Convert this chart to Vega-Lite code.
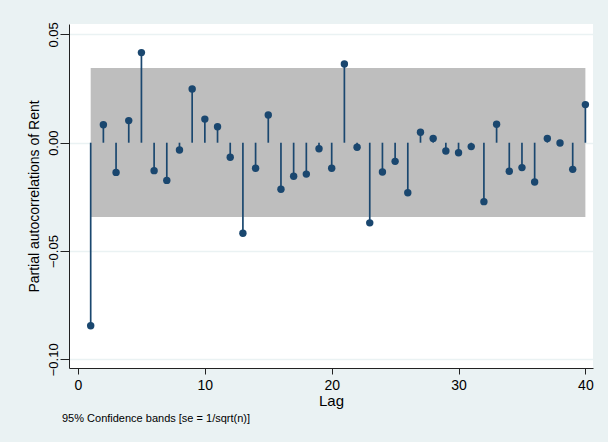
{
  "$schema": "https://vega.github.io/schema/vega-lite/v6.json",
  "autosize": "none",
  "width": 524,
  "height": 344,
  "padding": {"left": 69, "top": 24, "right": 15, "bottom": 74},
  "background": "#EAF2F3",
  "view": {"fill": "white", "stroke": null},
  "config": {
    "font": "Liberation Sans",
    "axis": {"labelFont": "Liberation Sans", "titleFont": "Liberation Sans", "labelColor": "black", "titleColor": "black", "titleFontWeight": "normal", "domainColor": "#222", "tickColor": "#222"}
  },
  "title": {"text": "95% Confidence bands [se = 1/sqrt(n)]", "orient": "bottom", "anchor": "start", "frame": "group", "fontSize": 11, "fontWeight": "normal", "color": "black", "offset": 5, "dx": -7},
  "datasets": {
    "band": [{"from": 1, "to": 40, "lo": -0.0343, "hi": 0.0345}],
    "pacf": [
      {"lag": 1, "pacf": -0.0845},
      {"lag": 2, "pacf": 0.0083},
      {"lag": 3, "pacf": -0.0137},
      {"lag": 4, "pacf": 0.0102},
      {"lag": 5, "pacf": 0.0416},
      {"lag": 6, "pacf": -0.0129},
      {"lag": 7, "pacf": -0.0174},
      {"lag": 8, "pacf": -0.0034},
      {"lag": 9, "pacf": 0.0248},
      {"lag": 10, "pacf": 0.0109},
      {"lag": 11, "pacf": 0.0074},
      {"lag": 12, "pacf": -0.0067},
      {"lag": 13, "pacf": -0.0418},
      {"lag": 14, "pacf": -0.0118},
      {"lag": 15, "pacf": 0.0128},
      {"lag": 16, "pacf": -0.0215},
      {"lag": 17, "pacf": -0.0155},
      {"lag": 18, "pacf": -0.0145},
      {"lag": 19, "pacf": -0.0028},
      {"lag": 20, "pacf": -0.0118},
      {"lag": 21, "pacf": 0.0363},
      {"lag": 22, "pacf": -0.0021},
      {"lag": 23, "pacf": -0.0370},
      {"lag": 24, "pacf": -0.0135},
      {"lag": 25, "pacf": -0.0086},
      {"lag": 26, "pacf": -0.0231},
      {"lag": 27, "pacf": 0.0048},
      {"lag": 28, "pacf": 0.0020},
      {"lag": 29, "pacf": -0.0038},
      {"lag": 30, "pacf": -0.0046},
      {"lag": 31, "pacf": -0.0018},
      {"lag": 32, "pacf": -0.0272},
      {"lag": 33, "pacf": 0.0085},
      {"lag": 34, "pacf": -0.0132},
      {"lag": 35, "pacf": -0.0115},
      {"lag": 36, "pacf": -0.0181},
      {"lag": 37, "pacf": 0.0020},
      {"lag": 38, "pacf": -0.0001},
      {"lag": 39, "pacf": -0.0123},
      {"lag": 40, "pacf": 0.0176}
    ]
  },
  "layer": [
    {
      "data": {"name": "band"},
      "mark": {"type": "rect", "color": "#BEBEBE"},
      "encoding": {
        "x": {"field": "from", "type": "quantitative", "scale": {"domain": [-0.71, 40.6], "nice": false, "zero": false},
          "axis": {"values": [0, 10, 20, 30, 40], "title": "Lag", "titleFontSize": 15, "titlePadding": 1, "labelFontSize": 14, "tickSize": 6, "labelPadding": 4, "grid": false, "labelFlush": false}},
        "x2": {"field": "to"},
        "y": {"field": "lo", "type": "quantitative", "scale": {"domain": [-0.104, 0.0548], "nice": false, "zero": false},
          "axis": {"values": [-0.1, -0.05, 0, 0.05], "format": ".2f", "title": "Partial autocorrelations of Rent", "titleFontSize": 14, "titlePadding": 6, "labelFontSize": 13, "labelAngle": -90, "labelAlign": "center", "labelBaseline": "alphabetic", "tickSize": 9, "labelPadding": 3, "grid": true, "gridColor": "#EAF2F3", "gridWidth": 1.5, "labelFlush": false}},
        "y2": {"field": "hi"}
      }
    },
    {
      "data": {"name": "pacf"},
      "mark": {"type": "rule", "color": "#1A476F", "strokeWidth": 1.7},
      "encoding": {
        "x": {"field": "lag", "type": "quantitative"},
        "y": {"field": "pacf", "type": "quantitative"},
        "y2": {"datum": 0}
      }
    },
    {
      "data": {"name": "pacf"},
      "mark": {"type": "circle", "color": "#1A476F", "opacity": 1, "size": 55},
      "encoding": {
        "x": {"field": "lag", "type": "quantitative"},
        "y": {"field": "pacf", "type": "quantitative"}
      }
    }
  ]
}
